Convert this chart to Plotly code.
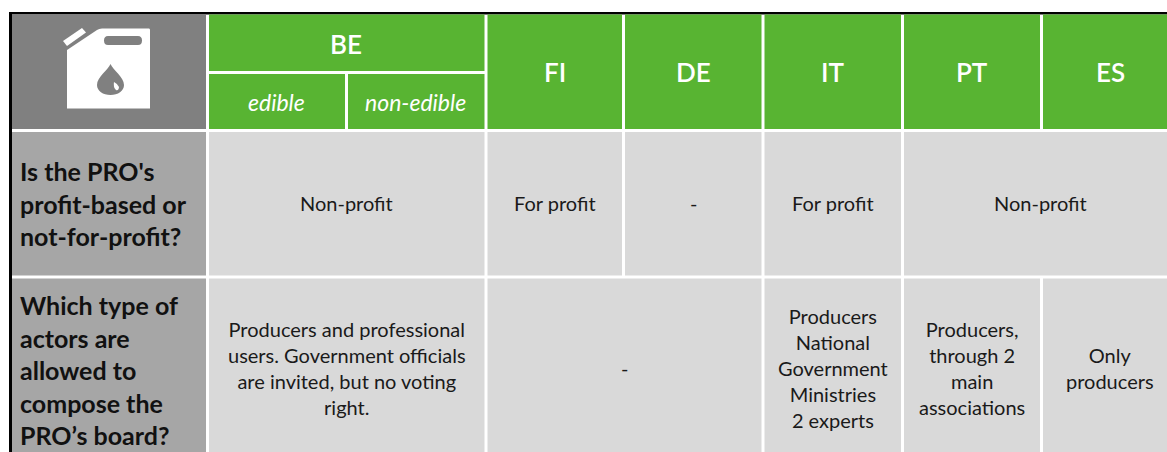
import plotly.graph_objects as go

# ---- content ----
countries = ["FI", "DE", "IT", "PT", "ES"]
be_header = "BE"
be_sub = ["edible", "non-edible"]
questions = [
    "Is the PRO's<br>profit-based or<br>not-for-profit?",
    "Which type of<br>actors are<br>allowed to<br>compose the<br>PRO’s board?",
]
row1_cells = ["Non-profit", "For profit", "-", "For profit", "Non-profit"]
row2_cells = [
    "Producers and professional<br>users. Government officials<br>are invited, but no voting<br>right.",
    "-",
    "Producers<br>National<br>Government<br>Ministries<br>2 experts",
    "Producers,<br>through 2<br>main<br>associations",
    "Only<br>producers",
]

# ---- layout (pixel grid of the page) ----
W, H = 1167, 452
GREEN, GREY_L, GREY_M, GREY_D = "#58B432", "#D9D9D9", "#A6A6A6", "#808080"
FONT = "Lato"
col = [(12, 206), (209, 345), (348, 484.5), (487.5, 622), (625, 761.5), (764.5, 901), (904, 1040), (1043, 1177)]
top, head_b, row1_t, row1_b, row2_t = 14.5, 129, 132, 275.5, 278.5
be_mid_b, be_mid_t = 71, 74

shapes, ann = [], []


def rect(x0, y0, x1, y1, color):
    shapes.append(dict(type="rect", xref="x", yref="y", x0=x0, y0=y0, x1=min(x1, W), y1=y1,
                       fillcolor=color, line_width=0, layer="above"))


def text(x, y, s, size, color="#1a1a1a", weight=400, italic=False, align="center"):
    ann.append(dict(x=x, y=y, text=s, xref="x", yref="y", showarrow=False, align=align,
                    xanchor="center" if align == "center" else "left", yanchor="middle",
                    font=dict(family=FONT, size=size, color=color, weight=weight,
                              style="italic" if italic else "normal")))


def span(i, j):
    return col[i][0], col[j][1]


def mid(i, j):
    a, b = span(i, j)
    return (a + b) / 2


# frame
rect(9, 12, W, 14.5, "#000000")
rect(9, 12, 12, H, "#000000")

# header
rect(col[0][0], top, col[0][1], head_b, GREY_D)
rect(col[1][0], top, col[2][1], be_mid_b, GREEN)
text(mid(1, 2) - 1, 44, be_header, 26, "#ffffff", 600)
for k, lab in enumerate(be_sub):
    rect(col[1 + k][0], be_mid_t, col[1 + k][1], head_b, GREEN)
    text(mid(1 + k, 1 + k) - 0.5, 102, lab, 23, "#ffffff", 400, True)
for k, lab in enumerate(countries):
    rect(col[3 + k][0], top, col[3 + k][1], head_b, GREEN)
    text(mid(3 + k, 3 + k), 72, lab, 26, "#ffffff", 600)

# icon
shapes.append(dict(type="path", xref="x", yref="y", fillcolor="#ffffff", line_width=0, layer="above",
                   path="M67,50 L97,30 Q99,28.5 102,28.5 L149,28.5 Q150,28.5 150,30 L150,108.5 L67,108.5 Z"))
shapes.append(dict(type="path", xref="x", yref="y", fillcolor="#ffffff", line_width=0, layer="above",
                   path="M63,41 L82,28 L86,32.5 L67,46 Z"))
shapes.append(dict(type="path", xref="x", yref="y", fillcolor=GREY_D, line_width=0, layer="above",
                   path="M108,36 L138,36 Q142,36 142,40.5 Q142,45 138,45 L108,45 Q104,45 104,40.5 Q104,36 108,36 Z"))
shapes.append(dict(type="path", xref="x", yref="y", fillcolor=GREY_D, line_width=0, layer="above",
                   path="M110.5,64 C113,70 124,77 124,85 C124,91 118,95 110.5,95 C103,95 97,91 97,85 C97,77 108,70 110.5,64 Z"))
shapes.append(dict(type="path", xref="x", yref="y", fillcolor="#ffffff", line_width=0, layer="above",
                   path="M114,82 Q118,84 119,87 Q118.5,91 116,90 Q113,87 114,82 Z"))

# row 1
rect(col[0][0], row1_t, col[0][1], row1_b, GREY_M)
text(18, 203.5, questions[0], 25, "#111111", 700, align="left")
r1_spans = [(1, 2), (3, 3), (4, 4), (5, 5), (6, 7)]
for (i, j), s in zip(r1_spans, row1_cells):
    a, b = span(i, j)
    rect(a, row1_t, b, row1_b, GREY_L)
    text(mid(i, j), 203, s, 20)

# row 2
rect(col[0][0], row2_t, col[0][1], H, GREY_M)
text(18, 369.5, questions[1], 25, "#111111", 700, align="left")
r2_spans = [(1, 2), (3, 4), (5, 5), (6, 6), (7, 7)]
for (i, j), s in zip(r2_spans, row2_cells):
    a, b = span(i, j)
    rect(a, row2_t, b, H, GREY_L)
    text(mid(i, j), 368, s, 20)

fig = go.Figure()
fig.update_layout(
    width=W, height=H, margin=dict(l=0, r=0, t=0, b=0),
    paper_bgcolor="#ffffff", plot_bgcolor="#ffffff", showlegend=False,
    xaxis=dict(range=[0, W], visible=False, fixedrange=True),
    yaxis=dict(range=[H, 0], visible=False, fixedrange=True),
    shapes=shapes, annotations=ann,
)
fig.write_html("out.html", config=dict(displayModeBar=False),
               post_script="document.body.style.margin='0';document.documentElement.style.overflow='hidden';")
